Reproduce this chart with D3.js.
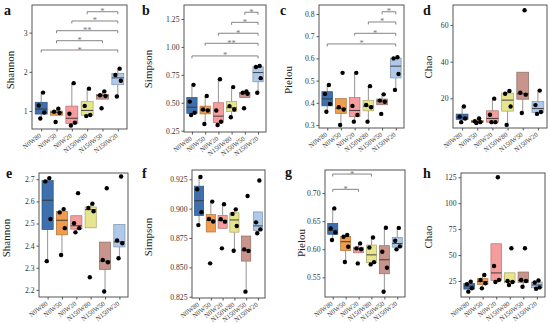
<!DOCTYPE html>
<html><head><meta charset="utf-8">
<script src="https://cdn.jsdelivr.net/npm/d3@7"></script>
<style>body{margin:0;background:#fff}</style>
</head><body><svg id="c" width="550" height="323"></svg>
<script>
// ---------- DATA ----------
const groups = ["N0W80","N0W50","N0W20","N150W80","N150W50","N150W20"];
const groupColors = ["#3e70ad","#f09c4e","#f59c9c","#e6e58e","#c7958b","#aec9ea"];

const shannonA = [[1.47,1.14,0.96,0.81],[1.06,0.98,0.95,0.72],[1.71,0.93,0.70,0.63],[1.57,1.13,0.90,0.87],[1.50,1.40,1.38,1.07],[2.08,1.92,1.77,1.37]];
const simpsonB = [[0.66,0.51,0.41,0.39],[0.56,0.44,0.43,0.31],[0.71,0.43,0.33,0.30],[0.64,0.47,0.44,0.37],[0.60,0.59,0.58,0.45],[0.83,0.82,0.72,0.59]];
const pielouC  = [[0.48,0.44,0.395,0.36],[0.535,0.38,0.37,0.30],[0.535,0.386,0.345,0.315],[0.475,0.39,0.38,0.315],[0.438,0.41,0.405,0.35],[0.605,0.60,0.53,0.458]];
const chaoD    = [[15.5,10,9,7],[9,7.5,7,6.5],[19.8,11,7,7],[24,22.5,15.5,5.5],[68,23,22,12],[24.2,16.3,12.5,11.5]];
const shannonE = [[2.705,2.69,2.52,2.33],[2.565,2.55,2.479,2.358],[2.637,2.501,2.479,2.46],[2.589,2.57,2.555,2.257],[2.659,2.335,2.325,2.193],[2.712,2.423,2.411,2.343]];
const simpsonF = [[0.927,0.9165,0.897,0.886],[0.906,0.8912,0.889,0.8534],[0.9037,0.891,0.8889,0.8662],[0.8994,0.8955,0.8852,0.8642],[0.9108,0.8653,0.864,0.8293],[0.9239,0.8883,0.8823,0.879]];
const pielouG  = [[0.6727,0.6371,0.63,0.6164],[0.6253,0.6223,0.6045,0.5772],[0.6104,0.6015,0.60,0.5748],[0.621,0.603,0.577,0.573],[0.6383,0.5956,0.567,0.5244],[0.638,0.6152,0.605,0.5998]];
const chaoH    = [[24.4,22,18,14.7],[30.8,26,22.8,17.9],[125,39.5,26,24],[56.5,25,24,21.1],[56.5,26,25,19.5],[25.5,23.5,18.8,17.5]];

const ticksA = [1,2,3];
const ticksB = [0.25,0.50,0.75,1.00,1.25];
const ticksC = [0.3,0.4,0.5,0.6,0.7,0.8];
const ticksD = [20,40,60];
const ticksE = [2.2,2.3,2.4,2.5,2.6,2.7];
const ticksF = [0.825,0.850,0.875,0.900,0.925];
const ticksG = [0.55,0.60,0.65,0.70];
const ticksH = [25,50,75,100,125];

// significance: [group1, group2, label, y-level]
const sigA = [["N0W80","N150W20","*",2.556],["N0W50","N150W50","*",2.793],["N0W50","N150W20","**",3.048],["N0W20","N150W20","*",3.296],["N150W80","N150W20","*",3.533]];
const sigB = [["N0W80","N150W20","*",0.919],["N0W50","N150W20","**",1.032],["N0W20","N150W20","*",1.122],["N150W80","N150W20","*",1.22],["N150W50","N150W20","*",1.31]];
const sigC = [["N0W80","N150W20","*",0.665],["N0W20","N150W20","*",0.713],["N150W80","N150W20","*",0.764],["N150W50","N150W20","*",0.81]];
const sigG = [["N0W80","N0W20","*",0.7066],["N0W80","N150W80","*",0.7338]];

// ---------- LAYOUT ----------
const panels = [
 {letter:"a",title:"Shannon",data:shannonA,ticks:ticksA,fmt:d3.format("d"),dom:[0.541,3.704],x0:32,x1:127,y0:5,y1:129,tx:14,ty:70,lx:4,ly:15,sig:sigA},
 {letter:"b",title:"Simpson",data:simpsonB,ticks:ticksB,fmt:d3.format(".2f"),dom:[0.238,1.375],x0:184,x1:266,y0:5,y1:132,tx:152,ty:69,lx:142,ly:15,sig:sigB},
 {letter:"c",title:"Pielou",data:pielouC,ticks:ticksC,fmt:d3.format(".1f"),dom:[0.2865,0.8405],x0:319,x1:404,y0:5,y1:128,tx:292,ty:80,lx:280,ly:15,sig:sigC},
 {letter:"d",title:"Chao",data:chaoD,ticks:ticksD,fmt:d3.format("d"),dom:[3.8,70.9],x0:453,x1:547,y0:5,y1:128,tx:432,ty:67,lx:423,ly:15,sig:[]},
 {letter:"e",title:"Shannon",data:shannonE,ticks:ticksE,fmt:d3.format(".1f"),dom:[2.168,2.728],x0:39,x1:128,y0:173,y1:297,tx:10,ty:238,lx:6,ly:178,sig:[]},
 {letter:"f",title:"Simpson",data:simpsonF,ticks:ticksF,fmt:d3.format(".3f"),dom:[0.8239,0.9329],x0:192,x1:265,y0:170,y1:298,tx:152,ty:237,lx:142,ly:178,sig:[]},
 {letter:"g",title:"Pielou",data:pielouG,ticks:ticksG,fmt:d3.format(".2f"),dom:[0.515,0.741],x0:325,x1:405,y0:170,y1:297,tx:305,ty:243,lx:285,ly:177,sig:sigG},
 {letter:"h",title:"Chao",data:chaoH,ticks:ticksH,fmt:d3.format("d"),dom:[9.55,129.1],x0:461,x1:545,y0:173,y1:297,tx:432,ty:237,lx:423,ly:178,sig:[]}
];

const jitter = [0.12,-0.16,0.2,-0.06];
const serif = "'Liberation Serif','Times New Roman',serif";
const svg = d3.select("#c");

panels.forEach(p => {
  const g = svg.append("g");
  const x = d3.scalePoint().domain(groups).range([p.x0,p.x1]).padding(0.6);
  const y = d3.scaleLinear().domain(p.dom).range([p.y1,p.y0]);
  const step = x.step();
  const bw = step*0.78;

  // frame
  g.append("rect").attr("x",p.x0).attr("y",p.y0).attr("width",p.x1-p.x0).attr("height",p.y1-p.y0)
    .attr("fill","#fff").attr("stroke","#555").attr("stroke-width",1);

  // y axis
  const ya = d3.axisLeft(y).tickValues(p.ticks).tickFormat(p.fmt).tickSize(2.5).tickPadding(2);
  const yg = g.append("g").attr("transform",`translate(${p.x0},0)`).call(ya);
  yg.select(".domain").remove();
  yg.selectAll(".tick line").attr("stroke","#555");
  yg.selectAll(".tick text").attr("font-family",serif).attr("font-size",7.7).attr("fill","#333");

  // x axis
  const xa = d3.axisBottom(x).tickSize(2.5).tickPadding(2);
  const xg = g.append("g").attr("transform",`translate(0,${p.y1})`).call(xa);
  xg.select(".domain").remove();
  xg.selectAll(".tick line").attr("stroke","#555");
  xg.selectAll(".tick text").attr("font-family",serif).attr("font-size",6.7).attr("fill","#444")
    .attr("text-anchor","end").attr("dy",0).attr("y",0)
    .attr("transform","translate(0,7.5) rotate(-37)");

  // boxes
  p.data.forEach((vals,i) => {
    const s = vals.slice().sort(d3.ascending);
    const q1 = d3.quantileSorted(s,0.25), med = d3.quantileSorted(s,0.5), q3 = d3.quantileSorted(s,0.75);
    const iqr = q3-q1;
    const lo = d3.min(s.filter(v => v >= q1-1.5*iqr));
    const hi = d3.max(s.filter(v => v <= q3+1.5*iqr));
    const cx = x(groups[i]);
    const col = groupColors[i];
    g.append("line").attr("x1",cx).attr("x2",cx).attr("y1",y(hi)).attr("y2",y(q3)).attr("stroke","#888").attr("stroke-width",0.9);
    g.append("line").attr("x1",cx).attr("x2",cx).attr("y1",y(q1)).attr("y2",y(lo)).attr("stroke","#888").attr("stroke-width",0.9);
    g.append("rect").attr("x",cx-bw/2).attr("y",y(q3)).attr("width",bw).attr("height",Math.max(0.5,y(q1)-y(q3)))
      .attr("fill",col).attr("stroke",d3.color(col).darker(0.9)).attr("stroke-width",0.7);
    g.append("line").attr("x1",cx-bw/2).attr("x2",cx+bw/2).attr("y1",y(med)).attr("y2",y(med))
      .attr("stroke","#333").attr("stroke-width",0.9);
    vals.forEach((v,j) => {
      g.append("circle").attr("cx",cx+jitter[j]*step).attr("cy",y(v)).attr("r",2.2).attr("fill","#000");
    });
  });

  // significance brackets
  p.sig.forEach(([g1,g2,lab,lev]) => {
    const xa1 = x(g1), xa2 = x(g2), yy = y(lev);
    g.append("path").attr("d",`M${xa1},${yy+2.5}V${yy}H${xa2}V${yy+2.5}`)
      .attr("fill","none").attr("stroke","#777").attr("stroke-width",0.9);
    g.append("text").attr("x",(xa1+xa2)/2).attr("y",yy+2.5).attr("text-anchor","middle")
      .attr("font-family",serif).attr("font-size",8.5).attr("fill","#777").text(lab);
  });

  // titles
  g.append("text").attr("transform",`translate(${p.tx},${p.ty}) rotate(-90)`).attr("text-anchor","middle")
    .attr("font-family",serif).attr("font-size",11).attr("fill","#222").text(p.title);
  g.append("text").attr("x",p.lx).attr("y",p.ly).attr("font-family",serif).attr("font-weight","bold")
    .attr("font-size",14).attr("fill","#111").text(p.letter);
});
</script>
</body></html>
